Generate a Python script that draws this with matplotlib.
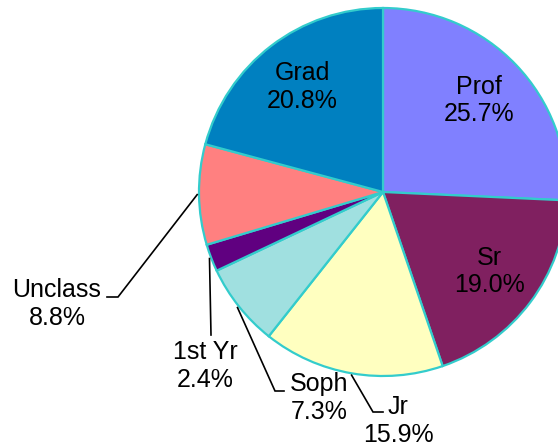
import numpy as np
import matplotlib
matplotlib.use("Agg")
import matplotlib.pyplot as plt

plt.rcParams['font.family'] = ['Liberation Sans', 'DejaVu Sans']

# slice data, clockwise from 12 o'clock
categories = ['Prof', 'Sr', 'Jr', 'Soph', '1st Yr', 'Unclass', 'Grad']
percents = [25.7, 19.0, 15.9, 7.3, 2.4, 8.8, 20.8]
colors = ['#8080FF', '#802060', '#FFFFC0', '#A0E0E0', '#600080', '#FF8080', '#0080C0']

# labels drawn inside the slice
inside = ['Prof', 'Sr', 'Grad']

# outside labels: text block centre, elbow, line end (pixel layout)
outside_layout = {
    'Unclass': ((57, 304), (118, 297), (107, 297)),
    '1st Yr': ((205, 366), (211, 335), (211, 335)),
    'Soph': ((319, 398), (275, 391), (284, 391)),
    'Jr': ((398, 421), (373, 412), (383, 412)),
}

W, H = 558, 447
cx, cy, R = 383, 192, 184

fig = plt.figure(figsize=(W / 100, H / 100), dpi=100)
ax = fig.add_axes([0, 0, 1, 1])

wedges, _ = ax.pie(percents, colors=colors, startangle=90, counterclock=False,
                   center=(cx, -cy), radius=R,
                   wedgeprops=dict(edgecolor='#33CCCC', linewidth=1.6))

for w, name, pct in zip(wedges, categories, percents):
    mid = np.deg2rad((w.theta1 + w.theta2) / 2)
    label = f'{name}\n{pct:.1f}%'
    if name in inside:
        x = cx + 0.72 * R * np.cos(mid)
        y = -cy + 0.72 * R * np.sin(mid)
        ax.text(x, y, label, ha='center', va='center', fontsize=18)
    else:
        (tx, ty), (ex, ey), (lx, ly) = outside_layout[name]
        sx = cx + 1.01 * R * np.cos(mid)
        sy = -cy + 1.01 * R * np.sin(mid)
        ax.plot([sx, ex, lx], [sy, -ey, -ly], color='black', lw=1.2,
                solid_joinstyle='miter')
        ax.text(tx, -ty, label, ha='center', va='center', fontsize=18)

# pie() resets the view, so fix the pixel frame afterwards
ax.set_xlim(0, W)
ax.set_ylim(-H, 0)
ax.set_aspect('equal')
ax.axis('off')

fig.savefig('out.png', dpi=100)
